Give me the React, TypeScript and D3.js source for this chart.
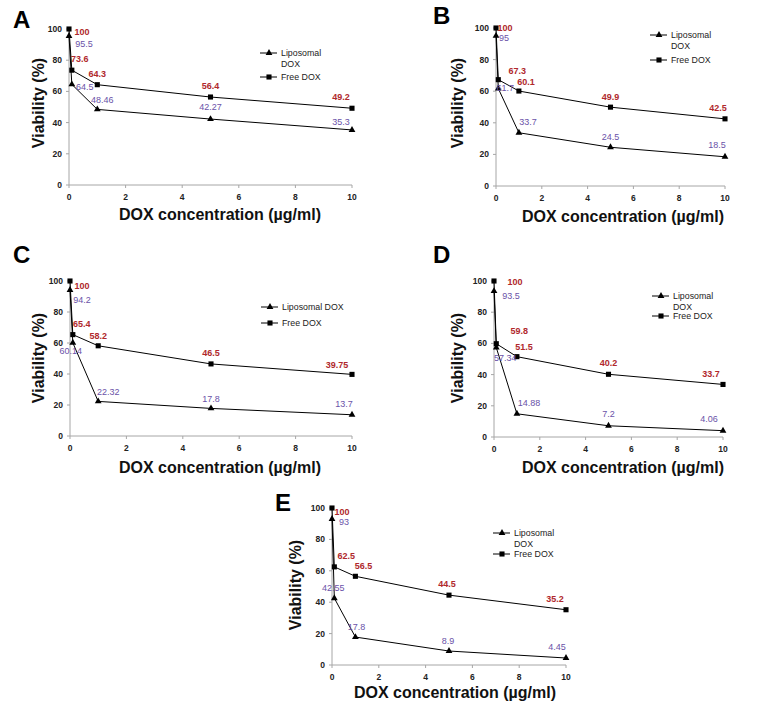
import * as d3 from "d3";

// x concentrations (µg/ml)
const doses = [0, 0.1, 1, 5, 10];

const lipoA = [95.5, 64.5, 48.46, 42.27, 35.3];
const freeA = [100, 73.6, 64.3, 56.4, 49.2];
const lipoB = [95, 61.7, 33.7, 24.5, 18.5];
const freeB = [100, 67.3, 60.1, 49.9, 42.5];
const lipoC = [94.2, 60.14, 22.32, 17.8, 13.7];
const freeC = [100, 65.4, 58.2, 46.5, 39.75];
const lipoD = [93.5, 57.34, 14.88, 7.2, 4.06];
const freeD = [100, 59.8, 51.5, 40.2, 33.7];
const lipoE = [93, 42.55, 17.8, 8.9, 4.45];
const freeE = [100, 62.5, 56.5, 44.5, 35.2];

const yTicks = [0, 20, 40, 60, 80, 100];
const xTicks = [0, 2, 4, 6, 8, 10];

// label nudges [dx, dy] from each point
const nudges = {
  A: {
    free: [[13, 3], [8, -11], [0, -11], [0, -11], [-11, -11]],
    lipo: [[15, 8], [13, 2], [5, -10], [0, -12], [-11, -8]],
  },
  B: {
    free: [[9, 0], [19, -9], [7, -9], [0, -10], [-7, -11]],
    lipo: [[8, 2], [7, -1], [9, -11], [0, -10], [-8, -12]],
  },
  C: {
    free: [[12, 5], [9, -11], [0, -10], [0, -11], [-15, -10]],
    lipo: [[12, 10], [-2, 8], [10, -10], [0, -10], [-8, -11]],
  },
  D: {
    free: [[21, 1], [23, -13], [7, -10], [0, -11], [-12, -11]],
    lipo: [[17, 5], [9, 10], [12, -11], [0, -12], [-14, -12]],
  },
  E: {
    free: [[10, 4], [12, -11], [8, -10], [-2, -11], [-11, -11]],
    lipo: [[12, 3], [-1, -10], [1, -10], [-1, -10], [-9, -11]],
  },
};

const panels = [
  { id: "A", lipo: lipoA, free: freeA, x0: 69, x1: 352, y0: 185, y1: 29, letter: [13, 28], xt: [220, 220], yt: [44, 103], leg: [260, 53], freeGap: 24, twoLine: true },
  { id: "B", lipo: lipoB, free: freeB, x0: 496, x1: 725, y0: 186, y1: 28, letter: [433, 24], xt: [623, 222], yt: [463, 103], leg: [650, 35], freeGap: 25, twoLine: true },
  { id: "C", lipo: lipoC, free: freeC, x0: 70, x1: 352, y0: 436, y1: 281, letter: [13, 263], xt: [220, 473], yt: [44, 358], leg: [261, 307], freeGap: 16, twoLine: false },
  { id: "D", lipo: lipoD, free: freeD, x0: 494, x1: 723, y0: 437, y1: 281, letter: [433, 263], xt: [623, 473], yt: [463, 358], leg: [652, 296], freeGap: 20, twoLine: true },
  { id: "E", lipo: lipoE, free: freeE, x0: 332, x1: 566, y0: 665, y1: 508, letter: [275, 511], xt: [455, 698], yt: [301, 585], leg: [493, 533], freeGap: 21, twoLine: true },
];

const RED = "#b0282c";
const PURPLE = "#6a52a8";
const AXIS = "#a6a6a6";
const LABEL_FONT = "'Liberation Sans', Arial, sans-serif";
const TITLE_FONT = "Arial, 'Liberation Sans', sans-serif";

const tri = d3.symbol(d3.symbolTriangle, 20)();
const sq = d3.symbol(d3.symbolSquare, 26)();

function Panel({ p }: { p: any }) {
  const x = d3.scaleLinear().domain([0, 10]).range([p.x0, p.x1]);
  const y = d3.scaleLinear().domain([0, 100]).range([p.y0, p.y1]);
  const line = d3
    .line<number>()
    .x((_, i) => x(doses[i]))
    .y((v) => y(v));
  const nd = (nudges as any)[p.id];
  const [lx, ly] = p.leg;
  const freeY = ly + p.freeGap;

  return (
    <g>
      <text x={p.letter[0]} y={p.letter[1]} fontSize={24} fontWeight="bold" fontFamily={TITLE_FONT}>
        {p.id}
      </text>
      {/* axes */}
      <line x1={p.x0} x2={p.x0} y1={p.y0} y2={p.y1} stroke={AXIS} />
      <line x1={p.x0} x2={p.x1} y1={p.y0} y2={p.y0} stroke={AXIS} />
      {yTicks.map((t) => (
        <g key={"y" + t}>
          <line x1={p.x0 - 3} x2={p.x0} y1={y(t)} y2={y(t)} stroke={AXIS} />
          <text x={p.x0 - 7} y={y(t)} dy="0.35em" textAnchor="end" fontSize={8.5} fontWeight="bold" fill="#222" fontFamily={LABEL_FONT}>
            {t}
          </text>
        </g>
      ))}
      {xTicks.map((t) => (
        <g key={"x" + t}>
          <line x1={x(t)} x2={x(t)} y1={p.y0} y2={p.y0 + 3} stroke={AXIS} />
          <text x={x(t)} y={p.y0 + 15} textAnchor="middle" fontSize={8.5} fontWeight="bold" fill="#222" fontFamily={LABEL_FONT}>
            {t}
          </text>
        </g>
      ))}
      <text
        transform={`translate(${p.yt[0]},${p.yt[1]}) rotate(-90)`}
        textAnchor="middle"
        fontSize={16}
        fontWeight="bold"
        fill="#111"
        fontFamily={TITLE_FONT}
      >
        Viability (%)
      </text>
      <text x={p.xt[0]} y={p.xt[1]} textAnchor="middle" fontSize={16} fontWeight="bold" fill="#111" fontFamily={TITLE_FONT}>
        DOX concentration (µg/ml)
      </text>
      {/* series */}
      <path d={line(p.free) || ""} fill="none" stroke="#000" strokeWidth={1} />
      <path d={line(p.lipo) || ""} fill="none" stroke="#000" strokeWidth={1} />
      {p.free.map((v: number, i: number) => (
        <path key={"fs" + i} d={sq || ""} transform={`translate(${x(doses[i])},${y(v)})`} fill="#000" />
      ))}
      {p.lipo.map((v: number, i: number) => (
        <path key={"ls" + i} d={tri || ""} transform={`translate(${x(doses[i])},${y(v)})`} fill="#000" />
      ))}
      {p.free.map((v: number, i: number) => (
        <text
          key={"fl" + i}
          x={x(doses[i]) + nd.free[i][0]}
          y={y(v) + nd.free[i][1]}
          dy="0.35em"
          textAnchor="middle"
          fontSize={9}
          fontWeight="bold"
          fill={RED}
          fontFamily={LABEL_FONT}
        >
          {v}
        </text>
      ))}
      {p.lipo.map((v: number, i: number) => (
        <text
          key={"ll" + i}
          x={x(doses[i]) + nd.lipo[i][0]}
          y={y(v) + nd.lipo[i][1]}
          dy="0.35em"
          textAnchor="middle"
          fontSize={9}
          fill={PURPLE}
          fontFamily={LABEL_FONT}
        >
          {v}
        </text>
      ))}
      {/* legend */}
      <line x1={lx} x2={lx + 17} y1={ly} y2={ly} stroke="#000" />
      <path d={tri || ""} transform={`translate(${lx + 9},${ly})`} fill="#000" />
      <text x={lx + 21} y={ly} dy="0.35em" fontSize={8.8} fill="#222" fontFamily={LABEL_FONT}>
        {p.twoLine ? "Liposomal" : "Liposomal DOX"}
      </text>
      {p.twoLine && (
        <text x={lx + 21} y={ly + 11} dy="0.35em" fontSize={8.8} fill="#222" fontFamily={LABEL_FONT}>
          DOX
        </text>
      )}
      <line x1={lx} x2={lx + 17} y1={freeY} y2={freeY} stroke="#000" />
      <path d={sq || ""} transform={`translate(${lx + 9},${freeY})`} fill="#000" />
      <text x={lx + 21} y={freeY} dy="0.35em" fontSize={8.8} fill="#222" fontFamily={LABEL_FONT}>
        Free DOX
      </text>
    </g>
  );
}

export default function App() {
  return (
    <svg width={766} height={725} style={{ position: "absolute", left: 0, top: 0, background: "#fff" }}>
      <rect width={766} height={725} fill="#fff" />
      {panels.map((p) => (
        <Panel key={p.id} p={p} />
      ))}
    </svg>
  );
}
